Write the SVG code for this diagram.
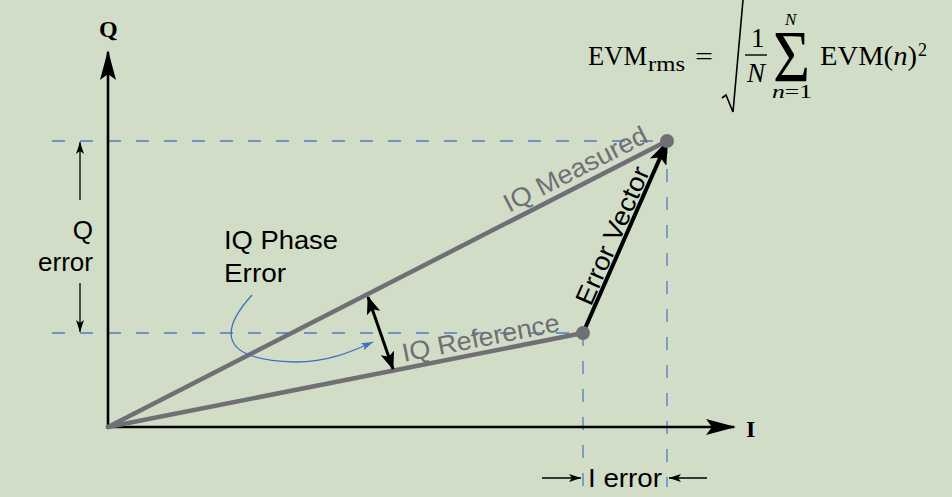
<svg xmlns="http://www.w3.org/2000/svg" width="952" height="497" viewBox="0 0 952 497">
<defs>
<style>
.sans{font-family:"Liberation Sans",Arial,sans-serif;font-size:26px;fill:#000}
.gray{fill:#6f6f74}
.serif{font-family:"Liberation Serif","Times New Roman",serif;fill:#000}
.dash{stroke:#4f7cc0;stroke-width:1.3;stroke-dasharray:13 15;fill:none}
.vec{stroke:#6f6f74;stroke-width:4.5;fill:none;stroke-linecap:round}
.axis{stroke:#000;stroke-width:2.6;fill:none}
.thin{stroke:#000;stroke-width:1.3;fill:none}
</style>
<marker id="axhead" viewBox="0 0 30 20" refX="28" refY="10" markerWidth="30" markerHeight="20" markerUnits="userSpaceOnUse" orient="auto">
<path d="M0,2 L30,10 L0,18 L6,10 Z" fill="#000"/>
</marker>
<marker id="smallhead" viewBox="0 0 12 8" refX="12" refY="4" markerWidth="12" markerHeight="8" markerUnits="userSpaceOnUse" orient="auto">
<path d="M0,0 L12,4 L0,8 L3,4 Z" fill="#000"/>
</marker>
<marker id="evhead" viewBox="0 0 24 18" refX="22" refY="9" markerWidth="24" markerHeight="18" markerUnits="userSpaceOnUse" orient="auto">
<path d="M0,0 L24,9 L0,18 L5,9 Z" fill="#000"/>
</marker>
<marker id="phhead" viewBox="0 0 18 14" refX="17" refY="7" markerWidth="18" markerHeight="14" markerUnits="userSpaceOnUse" orient="auto-start-reverse">
<path d="M0,0 L18,7 L0,14 L4,7 Z" fill="#000"/>
</marker>
<marker id="bluehead" viewBox="0 0 12 8" refX="12" refY="4" markerWidth="12" markerHeight="8" markerUnits="userSpaceOnUse" orient="auto">
<path d="M0,0 L12,4 L0,8 L3,4 Z" fill="#3f6fc0"/>
</marker>
</defs>
<rect width="952" height="497" fill="#d1ddc7"/>

<g id="guides">
<line class="dash" x1="52" y1="141" x2="667" y2="141"/>
<line class="dash" x1="52" y1="333" x2="583" y2="333"/>
<line class="dash" x1="583" y1="333" x2="583" y2="487"/>
<line class="dash" x1="667" y1="141" x2="667" y2="487"/>
</g>

<g id="axes">
<line class="axis" x1="108" y1="428" x2="108" y2="52" marker-end="url(#axhead)"/>
<line class="axis" x1="106.7" y1="427" x2="734" y2="427" marker-end="url(#axhead)"/>
<text class="serif" x="99" y="37" font-size="24" font-weight="bold">Q</text>
<text class="serif" x="746" y="437" font-size="24" font-weight="bold">I</text>
</g>

<g id="connectors">
<line class="vec" x1="108" y1="427" x2="667" y2="141"/>
<line class="vec" x1="108" y1="427" x2="583" y2="333"/>
<line stroke="#000" stroke-width="4" x1="583" y1="333" x2="667" y2="142" marker-end="url(#evhead)"/>
<line stroke="#000" stroke-width="3" x1="368" y1="297" x2="393" y2="369" marker-start="url(#phhead)" marker-end="url(#phhead)"/>
<path d="M252,295 C222,328 215,360 295,362 C330,362 355,350 373,342" stroke="#3f6fc0" stroke-width="1.3" fill="none" marker-end="url(#bluehead)"/>
<line class="thin" x1="80" y1="200" x2="80" y2="142" marker-end="url(#smallhead)"/>
<line class="thin" x1="80" y1="283" x2="80" y2="332" marker-end="url(#smallhead)"/>
<line class="thin" x1="542" y1="478" x2="581" y2="478" marker-end="url(#smallhead)"/>
<line class="thin" x1="707" y1="478" x2="669" y2="478" marker-end="url(#smallhead)"/>
</g>

<g id="measured">
<circle cx="667" cy="141" r="7" fill="#6f6f74"/>
<text class="sans gray" transform="translate(509,213) rotate(-27.1)" textLength="158" lengthAdjust="spacingAndGlyphs">IQ Measured</text>
</g>

<g id="reference">
<circle cx="583" cy="333" r="7" fill="#6f6f74"/>
<text class="sans gray" transform="translate(404,362) rotate(-11.2)" textLength="160" lengthAdjust="spacingAndGlyphs">IQ Reference</text>
</g>

<g id="error-vector">
<text class="sans" transform="translate(591,307) rotate(-66.4)" textLength="148" lengthAdjust="spacingAndGlyphs">Error Vector</text>
</g>

<g id="phase-error">
<text class="sans" x="224" y="249" textLength="114" lengthAdjust="spacingAndGlyphs">IQ Phase</text>
<text class="sans" x="224" y="282" textLength="62" lengthAdjust="spacingAndGlyphs">Error</text>
</g>

<g id="q-error">
<text class="sans" x="93" y="239" text-anchor="end">Q</text>
<text class="sans" x="93" y="271" text-anchor="end">error</text>
</g>

<g id="i-error">
<text class="sans" x="588" y="487" textLength="74" lengthAdjust="spacingAndGlyphs">I error</text>
</g>

<g id="formula">
<text class="serif" x="588" y="65" font-size="27" textLength="59" lengthAdjust="spacingAndGlyphs">EVM</text>
<text class="serif" x="648" y="71" font-size="20" textLength="37" lengthAdjust="spacingAndGlyphs">rms</text>
<text class="serif" x="695" y="65" font-size="26" textLength="18" lengthAdjust="spacingAndGlyphs">=</text>
<polyline points="722,98 726,95 733,112 743,0" stroke="#000" stroke-width="1.6" fill="none"/>
<text class="serif" x="751" y="47" font-size="27">1</text>
<line x1="745" y1="55" x2="767" y2="55" stroke="#000" stroke-width="1.4"/>
<text class="serif" x="747" y="82" font-size="27" font-style="italic">N</text>
<text class="serif" x="773" y="82" font-size="75" textLength="37" lengthAdjust="spacingAndGlyphs">Σ</text>
<text class="serif" x="785" y="25" font-size="17" font-style="italic">N</text>
<text class="serif" x="772" y="98" font-size="18" textLength="40" lengthAdjust="spacingAndGlyphs"><tspan font-style="italic">n</tspan>=1</text>
<text class="serif" x="820" y="65" font-size="27" textLength="97" lengthAdjust="spacingAndGlyphs">EVM(<tspan font-style="italic">n</tspan>)</text>
<text class="serif" x="918" y="56" font-size="18">2</text>
</g>
</svg>
